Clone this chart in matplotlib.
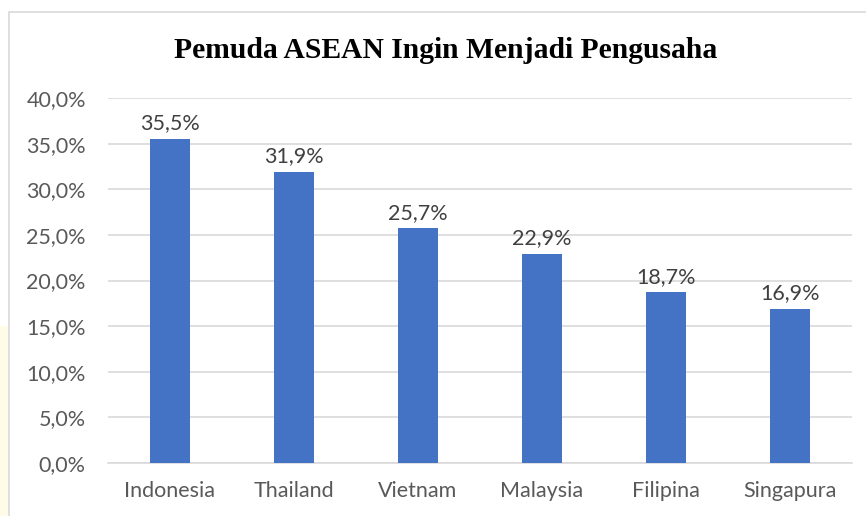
import matplotlib
matplotlib.use("Agg")
import matplotlib.pyplot as plt
from matplotlib.patches import Rectangle

categories = ["Indonesia", "Thailand", "Vietnam", "Malaysia", "Filipina", "Singapura"]
values = [35.5, 31.9, 25.7, 22.9, 18.7, 16.9]
yticks = [0, 5, 10, 15, 20, 25, 30, 35, 40]
title = "Pemuda ASEAN Ingin Menjadi Pengusaha"

W, H = 866, 516
fig = plt.figure(figsize=(W / 100, H / 100), dpi=100)
fig.patch.set_facecolor("white")

# faint watermark strip at left edge
fig.patches.append(Rectangle((0, 0), 8 / W, 190 / H, transform=fig.transFigure,
                             facecolor="#fefce6", edgecolor="none", zorder=0))
# chart border
fig.patches.append(Rectangle((9 / W, -0.05), 1.2, 1.05 - 12 / H, transform=fig.transFigure,
                             fill=False, edgecolor="#d9d9d9", linewidth=1.2, zorder=1))

ax = fig.add_axes([108 / W, (H - 463) / H, (852 - 108) / W, (463 - 98) / H])
x = list(range(len(categories)))
ax.bar(x, values, width=0.315, color="#4472C4", zorder=3)

ax.set_xlim(-0.5, len(categories) - 0.5)
ax.set_ylim(0, 40)
ax.set_yticks(yticks)
ax.set_yticklabels([f"{v:.1f}%".replace(".", ",") for v in yticks])
ax.set_xticks(x)
ax.set_xticklabels(categories)

for s in ["top", "right", "left"]:
    ax.spines[s].set_visible(False)
ax.spines["bottom"].set_color("#d9d9d9")
ax.spines["bottom"].set_linewidth(1.2)
ax.grid(axis="y", color="#d9d9d9", linewidth=1.2, zorder=0)
ax.set_axisbelow(True)

ax.tick_params(axis="both", length=0, labelsize=15.5, labelcolor="#595959",
               labelfontfamily="Lato")
ax.tick_params(axis="y", pad=16)
ax.tick_params(axis="x", pad=13)

for xi, v in zip(x, values):
    ax.annotate(f"{v:.1f}%".replace(".", ","), (xi, v), xytext=(0, 4),
                textcoords="offset points", ha="center", va="bottom",
                fontsize=15.5, color="#404040", family="Lato")

fig.text(446 / W, 1 - 50 / H, title, ha="center", va="center",
         fontsize=21.3, fontweight="bold", family="Liberation Serif", color="black")

fig.savefig("out.png", dpi=100)
